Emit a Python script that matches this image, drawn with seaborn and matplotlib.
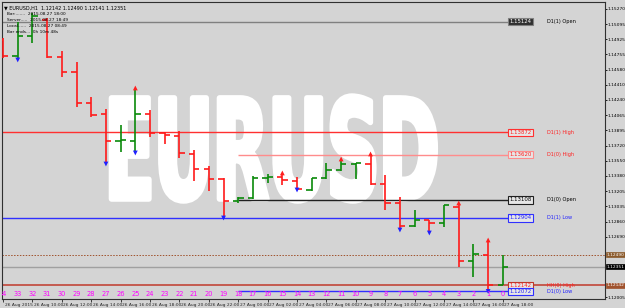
import matplotlib
matplotlib.use("Agg")
import matplotlib.pyplot as plt
import matplotlib.transforms as mtrans
import matplotlib.font_manager as fm
from matplotlib import patheffects
from matplotlib.transforms import Affine2D
import numpy as np
import pandas as pd
import seaborn as sns

# ---------------- data ----------------
bar_numbers = list(range(34, -1, -1))
opens = [1.14919, 1.14738, 1.14964, 1.15146, 1.14727, 1.14557, 1.14206, 1.14081, 1.13776, 1.13776,
         1.14081, 1.13866, 1.13832, 1.13629, 1.13459, 1.13346, 1.13097, 1.13131, 1.13357, 1.13368,
         1.13323, 1.13221, 1.13357, 1.13448, 1.13515, 1.13515, 1.13289, 1.13074, 1.12814, 1.12882,
         1.12848, 1.13029, 1.12417, 1.12485, 1.12142]
highs = [1.14942, 1.15123, 1.15225, 1.15168, 1.14795, 1.14670, 1.14274, 1.14138, 1.13957, 1.14376,
         1.14127, 1.13878, 1.13889, 1.13674, 1.13493, 1.13357, 1.13142, 1.13380, 1.13402, 1.13414,
         1.13368, 1.13357, 1.13527, 1.13572, 1.13527, 1.13629, 1.13391, 1.13142, 1.12995, 1.12882,
         1.13051, 1.13074, 1.12610, 1.12655, 1.12490]
lows = [1.14715, 1.14693, 1.14885, 1.14715, 1.14500, 1.14161, 1.14048, 1.13515, 1.13651, 1.13640,
        1.13821, 1.13742, 1.13583, 1.13323, 1.13210, 1.12904, 1.13074, 1.13119, 1.13300, 1.13278,
        1.13221, 1.13210, 1.13346, 1.13436, 1.13346, 1.13278, 1.12995, 1.12768, 1.12802, 1.12734,
        1.12802, 1.12350, 1.12236, 1.12072, 1.12141]
closes = [1.14738, 1.14964, 1.15191, 1.14727, 1.14557, 1.14206, 1.14070, 1.13776, 1.13787, 1.14081,
          1.13866, 1.13844, 1.13640, 1.13459, 1.13346, 1.13097, 1.13131, 1.13357, 1.13368, 1.13334,
          1.13232, 1.13357, 1.13448, 1.13515, 1.13527, 1.13289, 1.13074, 1.12814, 1.12882, 1.12848,
          1.13051, 1.12417, 1.12497, 1.12146, 1.12351]

fractal_up_bars = [25, 15, 11, 9, 3, 1]
fractal_down_bars = [33, 27, 25, 19, 14, 7, 5, 1]

date_labels = ["26 Aug 2015", "26 Aug 10:00", "26 Aug 12:00", "26 Aug 14:00", "26 Aug 16:00",
               "26 Aug 18:00", "26 Aug 20:00", "26 Aug 22:00", "27 Aug 00:00", "27 Aug 02:00",
               "27 Aug 04:00", "27 Aug 06:00", "27 Aug 08:00", "27 Aug 10:00", "27 Aug 12:00",
               "27 Aug 14:00", "27 Aug 16:00", "27 Aug 18:00"]

price_ticks = [1.15270, 1.15095, 1.14925, 1.14755, 1.14580, 1.14410, 1.14240, 1.14065, 1.13895,
               1.13720, 1.13550, 1.13380, 1.13205, 1.13035, 1.12860, 1.12690, 1.12005]

level_names = ["D1(1) Open", "D1(1) High", "D1(0) High", "D1(0) Open", "D1(1) Low", "HH(0) High", "D1(0) Low"]
level_values = [1.15124, 1.13872, 1.13620, 1.13108, 1.12904, 1.12142, 1.12072]
level_start_bar = [34, 34, 18, 18, 34, 34, 18]
level_colors = ["#808080", "#ff3030", "#ff8c8c", "#202020", "#3030ff", "#c0392b", "#3030ff"]
level_text_colors = ["#000000", "#ff2020", "#ff2020", "#000000", "#2020ff", "#ff2020", "#2020ff"]

header = ["EURUSD,H1  1.12142 1.12490 1.12141 1.12351",
          "Bar:.......  2015.08.27 18:00",
          "Server.....  2015.08.27 18:49",
          "Local......  2015.08.27 08:49",
          "Bar ends...  0h 10m 48s"]

bid_price = 1.12351
high_line_price = 1.12490

# ---------------- style ----------------
BG = "#d4d4d4"
BULL = "#0a8a0a"
BEAR = "#ff1a1a"
sns.set_theme(style="white")
plt.rcParams['font.family'] = ['DejaVu Sans']

installed = {f.name for f in fm.fontManager.ttflist}
NARROW = "Liberation Sans Narrow" in installed
SMALL = ["Liberation Sans Narrow", "DejaVu Sans"] if NARROW else ["DejaVu Sans"]
sm = 1.0 if NARROW else 0.8

df = pd.DataFrame({"bar": bar_numbers, "open": opens, "high": highs, "low": lows, "close": closes})
df["x"] = 34 - df["bar"]
df["color"] = np.where(df["close"] >= df["open"], BULL, BEAR)

fig = plt.figure(figsize=(6.25, 3.08), dpi=100, facecolor=BG)
ax = fig.add_axes([2 / 625, 9 / 308, 603 / 625, 297 / 308])
ax.set_facecolor(BG)
ax.set_xlim(-0.07, 40.95)
ax.set_ylim(1.11987, 1.15349)


# ---- watermark (vertically stretched heavy text) ----
class Stretch(patheffects.AbstractPathEffect):
    def __init__(self, sy, cy, lw):
        super().__init__()
        self.sy, self.cy, self.lw = sy, cy, lw

    def draw_path(self, renderer, gc, tpath, affine, rgbFace=None):
        aff = affine + Affine2D().translate(0, -self.cy).scale(1, self.sy).translate(0, self.cy)
        gc0 = renderer.new_gc()
        gc0.copy_properties(gc)
        gc0.set_linewidth(self.lw)
        gc0.set_foreground(rgbFace)
        renderer.draw_path(gc0, tpath, aff, rgbFace)
        gc0.restore()


if NARROW:
    wm_family, wm_size, wm_sy = ["Liberation Sans Narrow"], 69, 1.40
else:
    wm_family, wm_size, wm_sy = ["DejaVu Sans"], 52, 1.92
ax.text(18.3, 1.13119, "EURUSD", fontsize=wm_size, fontweight="bold", color="white", family=wm_family,
        ha="center", va="baseline", zorder=0.5,
        path_effects=[Stretch(wm_sy, 308 - 199, 4.0)])

# ---- levels ----
trans_x_axes = mtrans.blended_transform_factory(ax.transAxes, ax.transData)
box_x = (508 - 3) / 14.7
for name, val, sb, lc, tc in zip(level_names, level_values, level_start_bar, level_colors, level_text_colors):
    x0 = 34 - sb if sb < 34 else -0.5
    if name == "HH(0) High":
        ax.hlines(val, -0.5, 41, color=lc, lw=1.1, zorder=1)
    else:
        ax.hlines(val, x0, box_x, color=lc, lw=1.0, zorder=1)
    dark = name == "D1(1) Open"
    ax.text(box_x + 0.1, val, f"{val:.5f}", fontsize=4.8 * sm, family=SMALL,
            color="#ffffff" if dark else tc, ha="left", va="center", zorder=5,
            bbox=dict(boxstyle="square,pad=0.2", fc="#303030" if dark else "#e6e6e6", ec=lc, lw=0.8))
    ax.text(37.0, val, name, fontsize=4.5 * sm, family=SMALL, color=tc, ha="left", va="center", zorder=5)

ax.hlines(bid_price, -0.5, 41, color="#a0a0a0", lw=1.0, zorder=1)
ax.hlines(high_line_price, -0.5, 41, color="#a0522d", lw=0.7, linestyle=(0, (1.5, 1.5)), zorder=1)

# ---- OHLC bars ----
ax.vlines(df["x"], df["low"], df["high"], colors=df["color"], lw=1.2, zorder=3)
ax.hlines(df["open"], df["x"] - 0.36, df["x"], colors=df["color"], lw=1.2, zorder=3)
ax.hlines(df["close"], df["x"], df["x"] + 0.36, colors=df["color"], lw=1.2, zorder=3)

# ---- fractals ----
up = df[df["bar"].isin(fractal_up_bars)]
dn = df[df["bar"].isin(fractal_down_bars)]
sns.scatterplot(x=up["x"], y=up["high"], marker="^", s=12, color="#ff2020", edgecolor="none", ax=ax, zorder=4)
sns.scatterplot(x=dn["x"], y=dn["low"], marker="v", s=12, color="#2020ff", edgecolor="none", ax=ax, zorder=4)
ax.set_xlabel("")
ax.set_ylabel("")

# ---- bar numbers ----
trans_data_axes = mtrans.blended_transform_factory(ax.transData, ax.transAxes)
for xi, n in zip(df["x"], df["bar"]):
    ax.text(xi, 0.018, str(n), transform=trans_data_axes, fontsize=4.8, color="#ff00ff",
            ha="center", va="center", clip_on=True, zorder=5)

# ---- axes ----
ax.yaxis.tick_right()
ax.set_yticks(price_ticks)
ax.set_yticklabels([f"{p:.5f}" for p in price_ticks], fontsize=3.9 * sm, family=SMALL)
ax.tick_params(axis="y", length=1.5, width=0.6, pad=0.3, colors="#000000", direction="out", right=True)
ax.set_xticks(list(range(0, 35, 2)))
ax.set_xticklabels(date_labels, fontsize=4.0 * sm, family=SMALL, ha="left")
ax.tick_params(axis="x", length=2.5, width=0.6, pad=0.3, direction="out", bottom=True)
for lab in ax.get_xticklabels():
    lab.set_transform(lab.get_transform() + mtrans.ScaledTranslation(1.5 / 100, 0, fig.dpi_scale_trans))
for sp in ax.spines.values():
    sp.set_color("#303030")
    sp.set_linewidth(0.8)
    sp.set_visible(True)

# axis price boxes
for val, fc in [(high_line_price, "#8b5a2b"), (bid_price, "#000000"), (1.12142, "#a0522d")]:
    ax.text(1.003, val, f"{val:.5f}", transform=trans_x_axes, fontsize=3.9 * sm, family=SMALL, color="white",
            ha="left", va="center", zorder=6, clip_on=False,
            bbox=dict(boxstyle="square,pad=0.12", fc=fc, ec=fc, lw=0.5))

# ---- header ----
ax.text(0.004, 0.988, "\u25bc " + header[0], transform=ax.transAxes, fontsize=4.4 * sm, family=SMALL,
        color="black", ha="left", va="top", zorder=6)
for k, line in enumerate(header[1:]):
    ax.text(0.008, 0.965 - k * 0.0195, line, transform=ax.transAxes, fontsize=3.8 * sm, family=SMALL,
            color="black", ha="left", va="top", zorder=6)

fig.savefig("out.png", dpi=100, facecolor=BG)
